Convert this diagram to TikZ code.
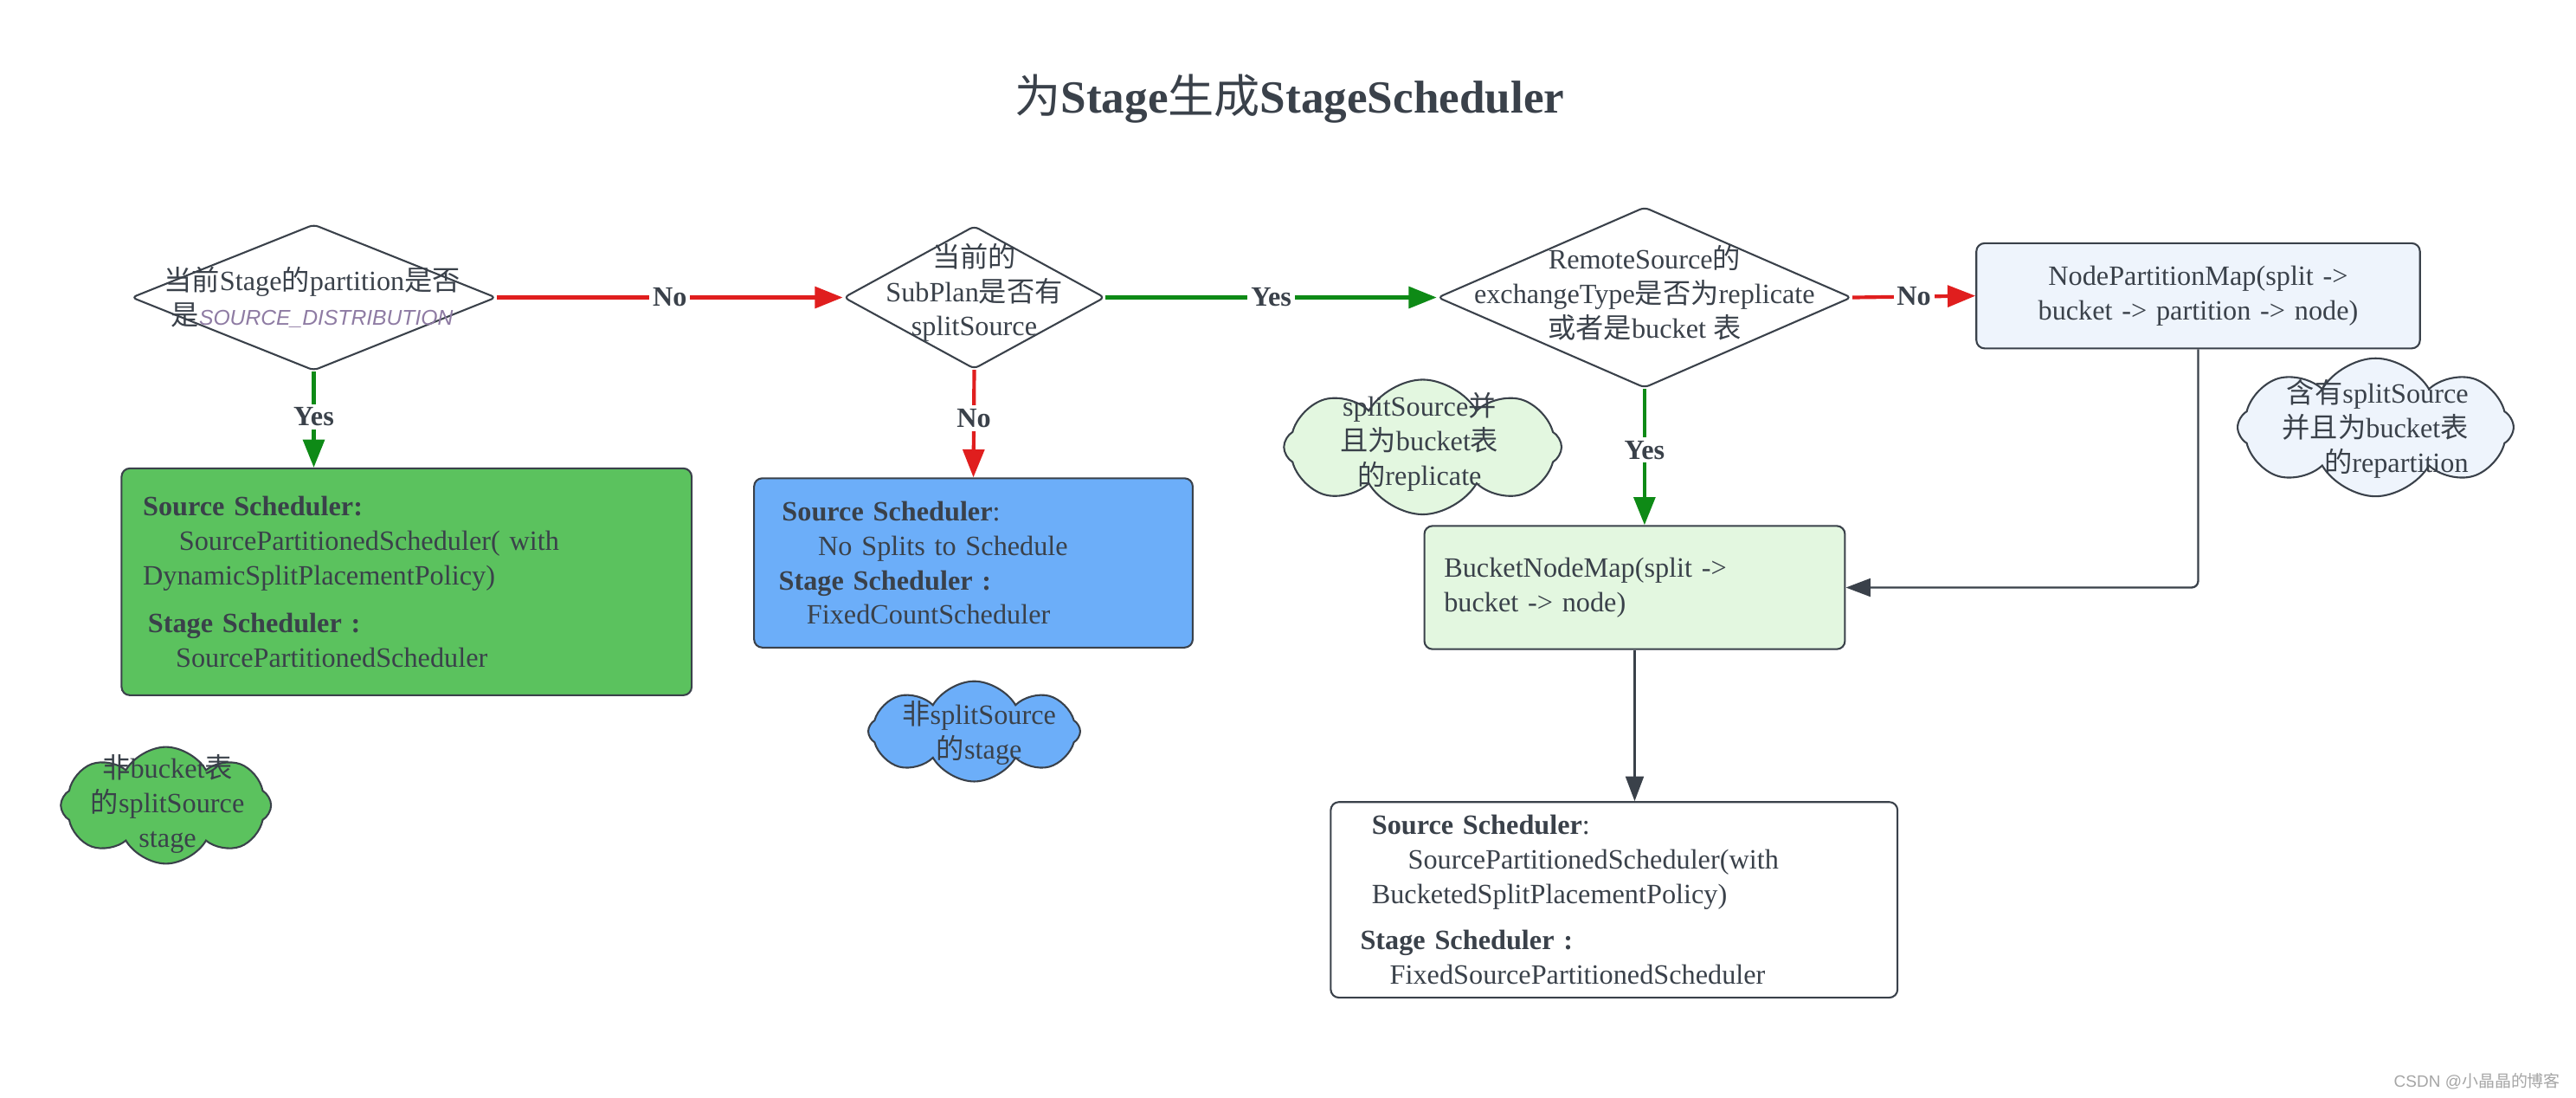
\documentclass[tikz,border=0pt]{standalone}
\usepackage{fontspec}
\setmainfont{Liberation Serif}
\newfontfamily\cjkfont{Noto Sans CJK SC}
\newfontfamily\srcfont{Liberation Sans}
\newcommand{\zhtext}[1]{{\cjkfont\mdseries #1}}
\usetikzlibrary{shapes.geometric,shapes.symbols,arrows.meta,positioning,calc}
\definecolor{inkcolor}{HTML}{3A414A}
\definecolor{yesgreen}{HTML}{0E8A16}
\definecolor{nored}{HTML}{E01E1E}
\definecolor{boxgreen}{HTML}{5BC25E}
\definecolor{boxblue}{HTML}{6CAEF9}
\definecolor{palegreen}{HTML}{E3F7E0}
\definecolor{paleblue}{HTML}{EEF4FC}
\definecolor{distcolor}{HTML}{8E7BA3}

\begin{document}
\begin{tikzpicture}[
    x=1pt, y=-1pt,
    every node/.style={text=inkcolor, font=\fontsize{17}{21}\selectfont},
    decision/.style={diamond, draw=inkcolor, line width=1.1pt, rounded corners=3pt, fill=white, inner sep=0pt},
    dtext/.style={align=center},
    schedbox/.style={rectangle, draw=inkcolor, line width=1.1pt, rounded corners=5pt, align=left, inner ysep=0pt},
    note/.style={cloud, cloud puffs=8, cloud puff arc=120, cloud ignores aspect, draw=inkcolor, line width=1.1pt, inner sep=0pt},
    ctext/.style={align=center},
    lbl/.style={font=\bfseries\fontsize{17}{21}\selectfont, fill=white, inner sep=2pt},
    yesline/.style={draw=yesgreen, line width=2.2pt, -{Triangle[length=17pt,width=13pt]}},
    noline/.style={draw=nored, line width=2.2pt, -{Triangle[length=17pt,width=13pt]}},
    plainline/.style={draw=inkcolor, line width=1.2pt, -{Triangle[length=15pt,width=11pt]}}
]
    \fill[white] (0,0) rectangle (1568,668);
    \useasboundingbox (0,0) rectangle (1568,668);

    % Title
    \node[font=\bfseries\fontsize{28}{32}\selectfont] (title) at (785,60) {\zhtext{为}Stage\zhtext{生成}StageScheduler};

    % Decisions
    \node[decision, minimum width=222pt, minimum height=89pt] (part) at (191,181) {};
    \node[dtext] (part-txt) at (190,181) {\zhtext{当前}Stage\zhtext{的}partition\zhtext{是否}\\
        \zhtext{是}{\srcfont\itshape\fontsize{13}{21}\selectfont\color{distcolor}SOURCE\_DISTRIBUTION}};
    \node[decision, minimum width=159pt, minimum height=87pt] (subplan) at (593,181) {};
    \node[dtext] (subplan-txt) at (593,178) {\zhtext{当前的}\\SubPlan\zhtext{是否有}\\splitSource};
    \node[decision, minimum width=252pt, minimum height=110pt] (remote) at (1001,181) {};
    \node[dtext] (remote-txt) at (1001,178) {RemoteSource\zhtext{的}\\exchangeType\zhtext{是否为}replicate\\\zhtext{或者是}bucket \zhtext{表}};

    % Boxes
    \node[schedbox, fill=boxgreen, minimum height=138pt, text width=321pt, inner xsep=13pt] (dynbox) at (247.5,354) {
        \textbf{Source Scheduler:}\\
        \hspace*{22pt}SourcePartitionedScheduler( with\\
        DynamicSplitPlacementPolicy)\\[8pt]
        \hspace*{3pt}\textbf{Stage Scheduler :}\\
        \hspace*{20pt}SourcePartitionedScheduler\\[6pt]};
    \node[schedbox, fill=boxblue, minimum height=103pt, text width=237pt, inner xsep=15pt] (fixbox) at (592.5,342.5) {
        \hspace*{2pt}\textbf{Source Scheduler}:\\
        \hspace*{24pt}No Splits to Schedule\\
        \textbf{Stage Scheduler :}\\
        \hspace*{17pt}FixedCountScheduler\\[4pt]};
    \node[schedbox, fill=paleblue, align=center, minimum height=64pt, text width=250pt, inner xsep=10pt] (npmap) at (1338,180) {
        NodePartitionMap(split ->\\bucket -> partition -> node)};
    \node[schedbox, fill=palegreen, minimum height=75pt, text width=232pt, inner xsep=12pt] (bnmap) at (995,357.5) {
        BucketNodeMap(split ->\\bucket -> node)};
    \node[schedbox, fill=white, minimum height=119pt, text width=309pt, inner xsep=18pt] (bucketbox) at (982.5,547.5) {
        \hspace*{7pt}\textbf{Source Scheduler}:\\
        \hspace*{29pt}SourcePartitionedScheduler(with\\
        \hspace*{7pt}BucketedSplitPlacementPolicy)\\[7pt]
        \textbf{Stage Scheduler :}\\
        \hspace*{18pt}FixedSourcePartitionedScheduler\\[3pt]};

    % Clouds
    \node[note, fill=boxgreen, minimum width=128pt, minimum height=71pt] (nobucket) at (101,490) {};
    \node[ctext] (nobucket-txt) at (102,489) {\zhtext{非}bucket\zhtext{表}\\\zhtext{的}splitSource\\stage};
    \node[note, fill=boxblue, minimum width=129pt, minimum height=61pt] (nosplit) at (593,445) {};
    \node[ctext] (nosplit-txt) at (596,446) {\zhtext{非}splitSource\\\zhtext{的}stage};
    \node[note, fill=palegreen, minimum width=169pt, minimum height=82pt] (replic) at (866,272) {};
    \node[ctext] (replic-txt) at (864,269) {splitSource\zhtext{并}\\\zhtext{且为}bucket\zhtext{表}\\\zhtext{的}replicate};
    \node[note, fill=paleblue, minimum width=168pt, minimum height=84pt] (repart) at (1446,260) {};
    \node[ctext, align=right, anchor=east] (repart-txt) at (1506,261) {\zhtext{含有}splitSource\\\zhtext{并且为}bucket\zhtext{表}\\\zhtext{的}repartition};

    % Edges
    \draw[noline] (part.east) -- node[lbl] {No} (subplan.west);
    \draw[yesline] (subplan.east) -- node[lbl] {Yes} (remote.west);
    \draw[noline] (remote.east) -- node[lbl] {No} (npmap.west);
    \draw[yesline] (part.south) -- node[lbl, pos=0.47] {Yes} (part.south |- dynbox.north);
    \draw[noline] (subplan.south) -- node[lbl, pos=0.45] {No} (fixbox.north);
    \draw[yesline] (remote.south) -- node[lbl, pos=0.45] {Yes} (remote.south |- bnmap.north);
    \draw[plainline] (bnmap.south) -- (bnmap.south |- bucketbox.north);
    \draw[plainline, rounded corners=4pt] (npmap.south) |- (bnmap.east);

    % Watermark
    \node[font=\fontsize{10}{12}\selectfont, text=gray!70, anchor=east] (mark) at (1562,658) {{\srcfont CSDN @}\zhtext{小晶晶的博客}};
\end{tikzpicture}
\end{document}
